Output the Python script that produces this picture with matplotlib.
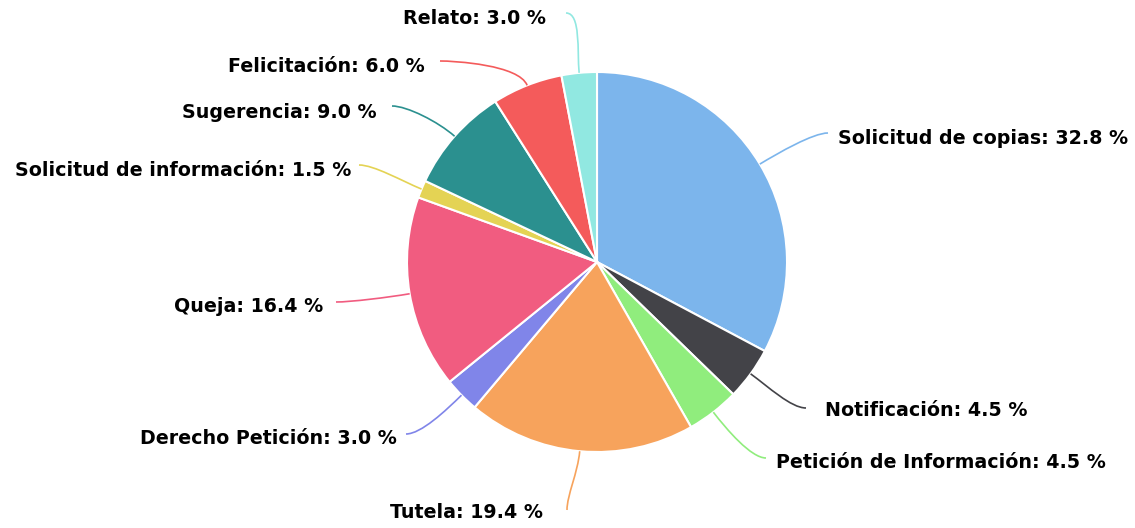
import matplotlib
matplotlib.use("Agg")
import matplotlib.pyplot as plt
from matplotlib.path import Path
from matplotlib.patches import PathPatch
import numpy as np

categories = ["Solicitud de copias", "Notificación", "Petición de Información", "Tutela",
              "Derecho Petición", "Queja", "Solicitud de información", "Sugerencia",
              "Felicitación", "Relato"]
values = [32.8, 4.5, 4.5, 19.4, 3.0, 16.4, 1.5, 9.0, 6.0, 3.0]
colors = ["#7cb5ec", "#434348", "#90ed7d", "#f7a35c", "#8085e9", "#f15c80",
          "#e4d354", "#2b908f", "#f45b5b", "#91e8e1"]

# layout: label anchor points (pixel coords, y from top) and side
label_pos = [(838, 139, "left"), (825, 411, "left"), (776, 463, "left"), (466, 513, "center"),
             (397, 438, "right"), (323, 306, "right"), (351, 171, "right"), (377, 112, "right"),
             (425, 66, "right"), (546, 19, "right")]
conn_end = [(828, 133), (806, 408), (766, 458), (567, 510),
            (406, 434), (336, 302), (359, 165), (392, 106),
            (440, 61), (566, 13)]

W, H = 1135, 528
fig = plt.figure(figsize=(W / 100, H / 100), dpi=100)
ax = fig.add_axes([0, 0, 1, 1])
ax.set_xlim(0, W)
ax.set_ylim(0, H)
ax.set_aspect("equal")
ax.axis("off")

cx, cy, r = 597, H - 262, 190
wedges, _ = ax.pie(values, colors=colors, startangle=90, counterclock=False,
                   center=(cx, cy), radius=r, normalize=True,
                   wedgeprops=dict(edgecolor="white", linewidth=1.5))
ax.set_xlim(0, W)
ax.set_ylim(0, H)

for w, lab, val, (lx, ly, ha), (ex, ey), col in zip(wedges, categories, values, label_pos, conn_end, colors):
    ang = np.deg2rad((w.theta1 + w.theta2) / 2)
    sx, sy = cx + r * np.cos(ang), cy + r * np.sin(ang)
    c1x, c1y = cx + (r + 22) * np.cos(ang), cy + (r + 22) * np.sin(ang)
    ey2 = H - ey
    if ha == "center":
        c2x, c2y = ex, ey2 + 15
    else:
        d = -15 if ex > cx else 15
        c2x, c2y = ex + d, ey2
    path = Path([(sx, sy), (c1x, c1y), (c2x, c2y), (ex, ey2)],
                [Path.MOVETO, Path.CURVE4, Path.CURVE4, Path.CURVE4])
    ax.add_patch(PathPatch(path, facecolor="none", edgecolor=col, linewidth=1.2))
    ax.text(lx, H - ly, f"{lab}: {val:.1f} %", ha=ha, va="center",
            fontsize=13.7, fontweight="bold", color="black", family="DejaVu Sans")

fig.savefig("out.png", dpi=100)
